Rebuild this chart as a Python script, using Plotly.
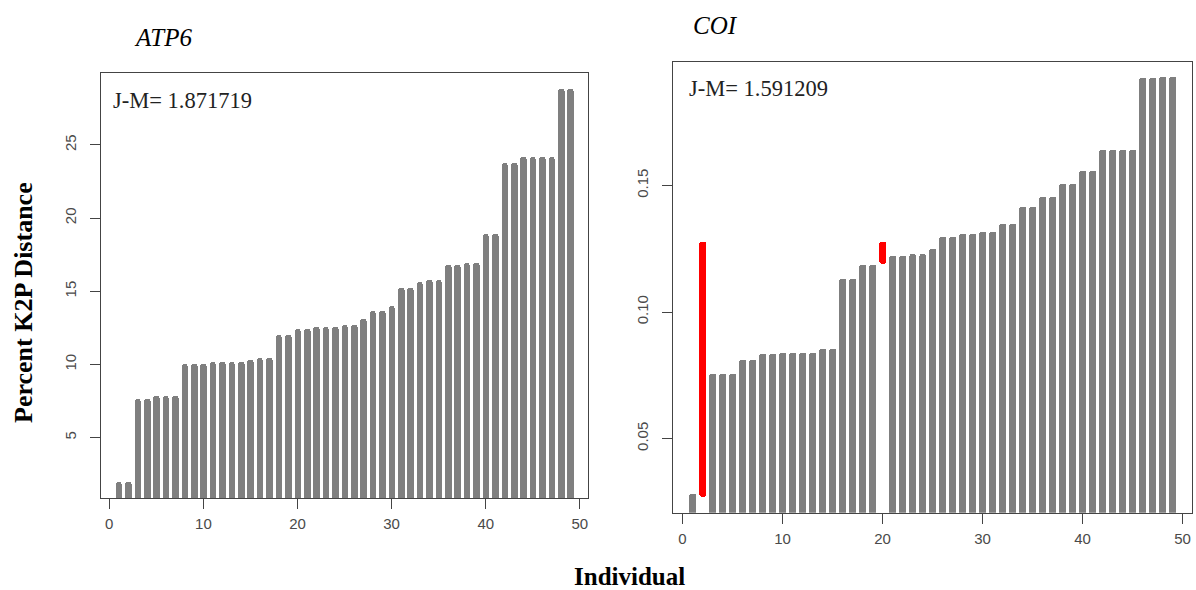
import plotly.graph_objects as go

W, H = 1196, 590

# individuals along the x axis
individual = list(range(1, 50))

# ATP6 percent K2P distance, sorted
atp6_k2p = [1.95, 1.95, 7.65, 7.65, 7.88, 7.88, 7.88, 10.03, 10.03, 10.03,
            10.20, 10.20, 10.20, 10.20, 10.30, 10.45, 10.45, 12.03, 12.03, 12.42,
            12.42, 12.58, 12.58, 12.58, 12.72, 12.72, 13.10, 13.67, 13.67, 13.97,
            15.20, 15.20, 15.65, 15.80, 15.80, 16.80, 16.80, 16.90, 16.90, 18.90,
            18.90, 23.74, 23.74, 24.15, 24.15, 24.15, 24.15, 28.85, 28.85]

# COI K2P distance (individuals 2 and 20 are drawn as red segments)
coi_k2p = [0.0283, None, 0.0758, 0.0758, 0.0758, 0.0813, 0.0813, 0.0837, 0.0837, 0.0841,
           0.0841, 0.0841, 0.0841, 0.0855, 0.0855, 0.1133, 0.1133, 0.1188, 0.1188, None,
           0.1221, 0.1221, 0.1229, 0.1229, 0.1252, 0.1298, 0.1298, 0.1308, 0.1308, 0.1318,
           0.1318, 0.1350, 0.1350, 0.1416, 0.1416, 0.1456, 0.1456, 0.1506, 0.1506, 0.1559,
           0.1559, 0.1643, 0.1643, 0.1643, 0.1643, 0.1924, 0.1924, 0.1930, 0.1930]

coi_red_individual = [2, 20]
coi_red_low = [0.0270, 0.1192]
coi_red_high = [0.1278, 0.1278]

x_ticks = [0, 10, 20, 30, 40, 50]
atp6_y_ticks = [5, 10, 15, 20, 25]
coi_y_ticks = [0.05, 0.10, 0.15]

atp6_label = 'J-M= 1.871719'
coi_label = 'J-M= 1.591209'

GREY = '#7f7f7f'
RED = '#ff0000'
AXIS = '#444444'
SERIF = 'Liberation Serif, Times New Roman, serif'
SANS = 'Liberation Sans, Arial, sans-serif'


def px(x):
    return x / W


def py(y):
    return 1 - y / H


fig = go.Figure()

fig.add_trace(go.Bar(x=individual, y=atp6_k2p, width=0.7,
                     marker=dict(color=GREY, line=dict(width=0), cornerradius=3),
                     xaxis='x', yaxis='y', showlegend=False))
fig.add_trace(go.Bar(x=individual, y=coi_k2p, width=0.7,
                     marker=dict(color=GREY, line=dict(width=0), cornerradius=3),
                     xaxis='x2', yaxis='y2', showlegend=False))
fig.add_trace(go.Bar(x=coi_red_individual,
                     base=coi_red_low,
                     y=[h - l for h, l in zip(coi_red_high, coi_red_low)],
                     width=0.7,
                     marker=dict(color=RED, line=dict(width=0), cornerradius=3),
                     xaxis='x2', yaxis='y2', showlegend=False))

axis_common = dict(
    showgrid=False, zeroline=False,
    showline=True, mirror=True, linecolor=AXIS, linewidth=1,
    ticks='outside', ticklen=10, tickcolor=AXIS, tickwidth=1,
    tickfont=dict(family=SANS, size=15, color='#4a4a4a'),
)

fig.update_layout(
    width=W, height=H,
    margin=dict(l=0, r=0, t=0, b=0),
    paper_bgcolor='white', plot_bgcolor='white',
    bargap=0, barmode='overlay',
    xaxis=dict(domain=[px(100.7), px(588.3)], range=[-0.91, 50.9],
               tickvals=x_ticks, anchor='y', ticklabelstandoff=2, **axis_common),
    yaxis=dict(domain=[py(498), py(73)], range=[0.88, 29.91],
               tickvals=atp6_y_ticks, tickangle=-90, anchor='x',
               ticklabelstandoff=8, **axis_common),
    xaxis2=dict(domain=[px(673.3), px(1191.7)], range=[-0.92, 50.92],
                tickvals=x_ticks, anchor='y2', ticklabelstandoff=2, **axis_common),
    yaxis2=dict(domain=[py(512.7), py(61.7)], range=[0.0207, 0.1989],
                tickvals=coi_y_ticks, tickformat='.2f', tickangle=-90,
                anchor='x2', ticklabelstandoff=8, **axis_common),
)

annotations = [
    dict(text='<i>ATP6</i>', x=px(163), y=py(37), font=dict(family=SERIF, size=25, color='black')),
    dict(text='<i>COI</i>', x=px(715), y=py(25), font=dict(family=SERIF, size=25, color='black')),
    dict(text='<b>Percent K2P Distance</b>', x=px(23), y=py(303), textangle=-90,
         font=dict(family=SERIF, size=26, color='black')),
    dict(text='<b>Individual</b>', x=px(629), y=py(576),
         font=dict(family=SERIF, size=25, color='black')),
]
for a in annotations:
    fig.add_annotation(xref='paper', yref='paper', showarrow=False,
                       xanchor='center', yanchor='middle', **a)

fig.add_annotation(text=atp6_label, xref='paper', yref='paper', x=px(111), y=py(100),
                   xanchor='left', yanchor='middle', showarrow=False,
                   font=dict(family=SERIF, size=22.5, color='#222222'))
fig.add_annotation(text=coi_label, xref='paper', yref='paper', x=px(687), y=py(89),
                   xanchor='left', yanchor='middle', showarrow=False,
                   font=dict(family=SERIF, size=22.5, color='#222222'))

# drop the default 8px body margin so the figure fills the 1196x590 window exactly
fig.write_html('out.html', config={'displayModeBar': False},
               post_script="document.body.style.margin='0px';")
